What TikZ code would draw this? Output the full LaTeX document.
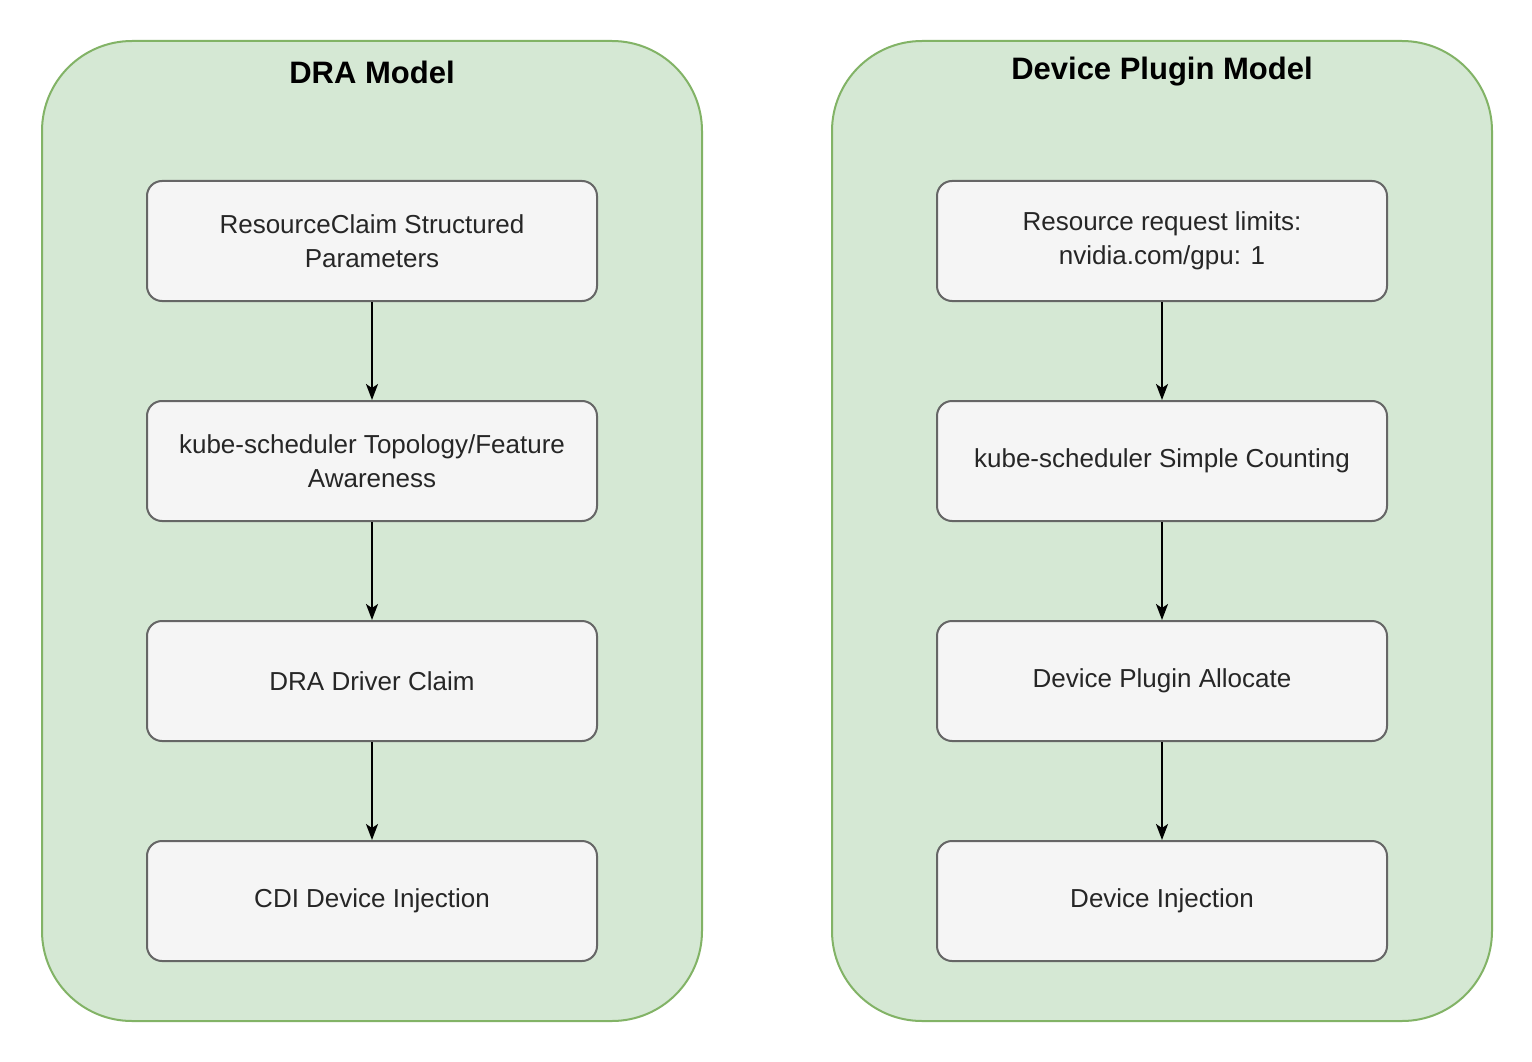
\documentclass[tikz,border=0pt]{standalone}
\usepackage{fontspec}
\setmainfont{Liberation Sans}
\usetikzlibrary{arrows.meta}
\definecolor{gfill}{HTML}{D5E8D4}
\definecolor{gline}{HTML}{82B366}
\definecolor{bfill}{HTML}{F5F5F5}
\definecolor{bline}{HTML}{666666}
\begin{document}
\begin{tikzpicture}[x=1pt,y=-1pt,
  cont/.style={draw=gline,fill=gfill,line width=2pt,rounded corners=90pt},
  box/.style={draw=bline,fill=bfill,line width=2pt,rounded corners=15pt,minimum width=450pt,minimum height=120pt,align=center,font=\fontsize{26}{34}\selectfont,text=black!85},
  ttl/.style={font=\fontsize{31}{36}\selectfont\bfseries},
  arr/.style={line width=2pt,-{Stealth[length=16pt,width=12pt,inset=4pt]}}]
\useasboundingbox (0,0) rectangle (1532,1062);
\draw[cont] (42,41) rectangle (702,1021);
\draw[cont] (832,41) rectangle (1492,1021);
\node[ttl] (t1) at (372,72) {DRA Model};
\node[ttl] (t2) at (1162,72) {Device Plugin Model};
\node[box] (a1) at (372,241) {ResourceClaim Structured\\Parameters};
\node[box] (a2) at (372,461) {kube-scheduler Topology/Feature\\Awareness};
\node[box] (a3) at (372,681) {DRA Driver Claim};
\node[box] (a4) at (372,901) {CDI Device Injection};
\node[box] (b1) at (1162,241) {Resource request limits:\\nvidia.com/gpu: 1};
\node[box] (b2) at (1162,461) {kube-scheduler Simple Counting};
\node[box] (b3) at (1162,681) {Device Plugin Allocate};
\node[box] (b4) at (1162,901) {Device Injection};
\draw[arr] (a1) -- (a2);
\draw[arr] (a2) -- (a3);
\draw[arr] (a3) -- (a4);
\draw[arr] (b1) -- (b2);
\draw[arr] (b2) -- (b3);
\draw[arr] (b3) -- (b4);
\end{tikzpicture}
\end{document}
